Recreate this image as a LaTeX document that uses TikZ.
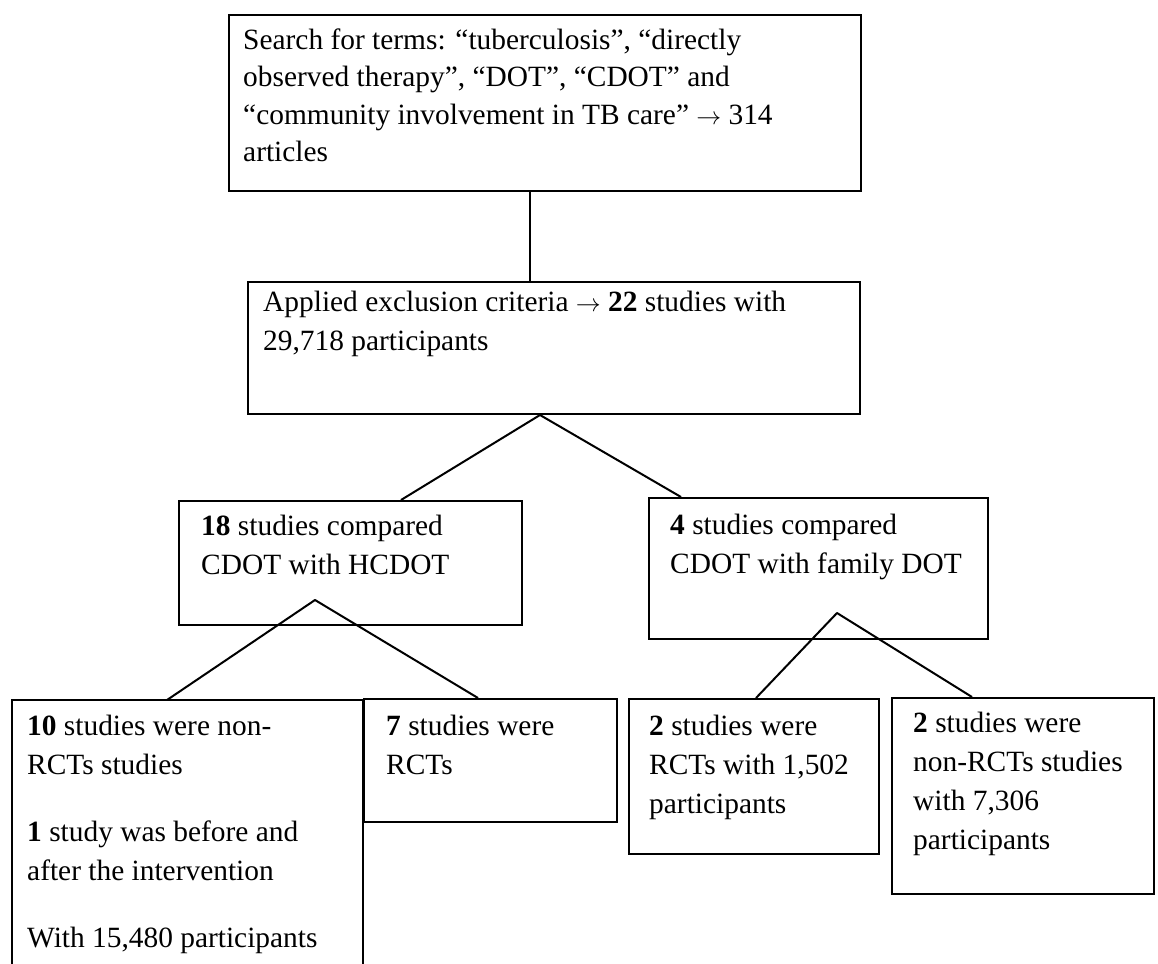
\documentclass[tikz,border=0pt]{standalone}
\usepackage{fontspec}
\setmainfont{Liberation Serif}
\usetikzlibrary{calc}
\newcommand{\rarr}{\ensuremath{\rightarrow}}
\begin{document}
\begin{tikzpicture}[x=1pt,y=-1pt,
  box/.style={draw=black,line width=2pt,inner sep=0pt,anchor=north west},
  openbox/.style={inner sep=0pt,anchor=north west},
  txt/.style={anchor=north west,inner sep=0pt,align=left,font=\fontsize{29.4pt}{39pt}\selectfont},
  conn/.style={draw=black,line width=2pt,line join=round}]
\fill[white] (0,0) rectangle (1158,963);
\useasboundingbox (0,0) rectangle (1158,963);
% boxes
\node[box,minimum width=632pt,minimum height=176pt] (b1) at (228,14) {};
\node[box,minimum width=612pt,minimum height=132pt] (b2) at (247,281) {};
\node[box,minimum width=343pt,minimum height=124pt] (b3) at (178,500) {};
\node[box,minimum width=339pt,minimum height=141pt] (b4) at (648,497) {};
\node[openbox,minimum width=351pt,minimum height=280pt] (b5) at (12,700) {};
\draw[line width=2pt] (b5.south west) -- (b5.north west) -- (b5.north east) -- (b5.south east);
\node[box,minimum width=253pt,minimum height=123pt] (b6) at (363,698) {};
\node[box,minimum width=250pt,minimum height=155pt] (b7) at (628,698) {};
\node[box,minimum width=262pt,minimum height=196pt] (b8) at (891,697) {};
% texts
\node[txt,font=\fontsize{29.4pt}{37.5pt}\selectfont] (t1) at (243,24) {\rule{0pt}{25pt}Search for terms: “tuberculosis”, “directly\\observed therapy”, “DOT”, “CDOT” and\\“community involvement in TB care” \rarr{} 314\\articles};
\node[txt] (t2) at (263,286) {\rule{0pt}{25pt}Applied exclusion criteria \rarr{} \textbf{22} studies with\\29,718 participants};
\node[txt] (t3) at (201,510) {\rule{0pt}{25pt}\textbf{18} studies compared\\CDOT with HCDOT};
\node[txt] (t4) at (670,509) {\rule{0pt}{25pt}\textbf{4} studies compared\\CDOT with family DOT};
\node[txt] (t5) at (27,710) {\rule{0pt}{25pt}\textbf{10} studies were non-\\RCTs studies\\[28pt]\textbf{1} study was before and\\after the intervention\\[28pt]With 15,480 participants};
\node[txt] (t6) at (386,710) {\rule{0pt}{25pt}\textbf{7} studies were\\RCTs};
\node[txt] (t7) at (649,710) {\rule{0pt}{25pt}\textbf{2} studies were\\RCTs with 1,502\\participants};
\node[txt] (t8) at (913,707) {\rule{0pt}{25pt}\textbf{2} studies were\\non-RCTs studies\\with 7,306\\participants};
% connectors
\coordinate (a2) at ($(b2.south west)+(293,0)$);
\coordinate (a3) at ($(b3.south west)+(137,-26)$);
\coordinate (a4) at ($(b4.south west)+(189,-27)$);
\draw[conn] ($(b1.south west)+(302,0)$) -- ($(b2.north west)+(283,0)$);
\draw[conn] ($(b3.north west)+(223,0)$) -- (a2) -- ($(b4.north west)+(33,0)$);
\draw[conn] ($(b5.north west)+(155,0)$) -- (a3) -- ($(b6.north west)+(115,0)$);
\draw[conn] ($(b7.north west)+(128,0)$) -- (a4) -- ($(b8.north west)+(81,0)$);
\end{tikzpicture}
\end{document}
